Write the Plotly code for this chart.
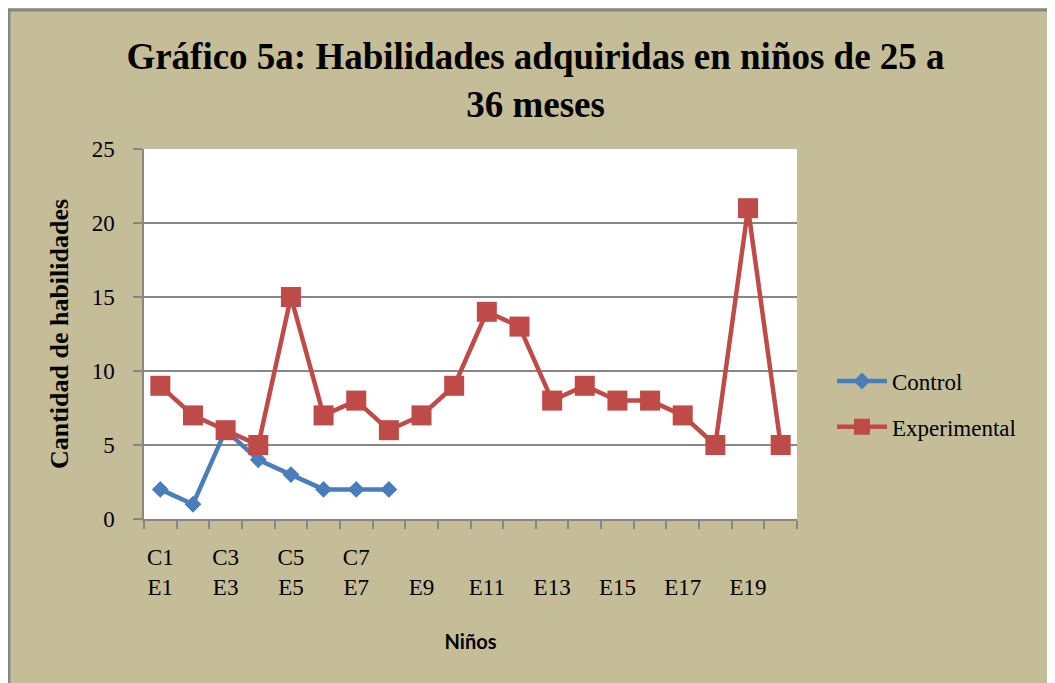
import plotly.graph_objects as go

# ---- data ----
control_labels = ["C1", "C2", "C3", "C4", "C5", "C6", "C7", "C8"]
control_values = [2, 1, 6, 4, 3, 2, 2, 2]
experimental_labels = ["E%d" % i for i in range(1, 21)]
experimental_values = [9, 7, 6, 5, 15, 7, 8, 6, 7, 9, 14, 13, 8, 9, 8, 8, 7, 5, 21, 5]

title_text = "Gráfico 5a: Habilidades adquiridas en niños de 25 a<br>36 meses"
y_title = "Cantidad de habilidades"
x_title = "Niños"

# positions along the category axis
x_control = list(range(1, len(control_values) + 1))
x_exp = list(range(1, len(experimental_values) + 1))

c_tickvals = [x_control[i] for i in range(0, len(control_labels), 2)]
c_ticktext = [control_labels[i] for i in range(0, len(control_labels), 2)]
e_tickvals = [x_exp[i] for i in range(0, len(experimental_labels), 2)]
e_ticktext = [experimental_labels[i] for i in range(0, len(experimental_labels), 2)]

BG = "#C4BD97"
GRID = "#878787"
SERIF = "Liberation Serif, Times New Roman, serif"

OFF = 8  # page body margin
W, H = 1055, 683
L, T = 144 - OFF, 149 - OFF
pw, ph = 653, 370
R, B = W - L - pw, H - T - ph


def px(xp):
    return (xp - OFF - L) / pw


def py(yp):
    return (T + ph - (yp - OFF)) / ph


fig = go.Figure()
fig.add_trace(go.Scatter(
    x=x_control, y=control_values, name="Control", mode="lines+markers",
    line=dict(color="#4A7EBB", width=4.5),
    marker=dict(symbol="diamond", size=13, color="#4A7EBB"),
    legendgroup="c",
))
fig.add_trace(go.Scatter(
    x=x_exp, y=experimental_values, name="Experimental", mode="lines+markers",
    line=dict(color="#BE4B48", width=4.5),
    marker=dict(symbol="square", size=20, color="#BE4B48"),
    legendgroup="e",
))
# invisible helper trace on second x axis (for the E tick labels)
fig.add_trace(go.Scatter(
    x=[x_exp[0], x_exp[-1]], y=[0, 0], xaxis="x2", mode="markers",
    marker=dict(opacity=0), showlegend=False, hoverinfo="skip",
))

fig.update_layout(
    width=W, height=H,
    paper_bgcolor=BG, plot_bgcolor="white",
    margin=dict(l=L, r=R, t=T, b=B),
    title=dict(text=title_text, x=0.5, xanchor="center",
               yref="container", y=1 - 61 / H, yanchor="top",
               font=dict(family=SERIF, size=37, color="black", weight="bold")),
    xaxis=dict(
        range=[0.5, 20.5], tickmode="array", tickvals=c_tickvals, ticktext=c_ticktext,
        ticks="", showgrid=False, zeroline=False,
        showline=True, linecolor=GRID, linewidth=1.5,
        tickfont=dict(family=SERIF, size=23, color="black"),
        ticklabelstandoff=17,
        minor=dict(tick0=0.5, dtick=1, ticks="outside", ticklen=8, tickcolor=GRID,
                   tickwidth=1.5, showgrid=False),
    ),
    xaxis2=dict(
        range=[0.5, 20.5], overlaying="x", side="bottom", anchor="y",
        tickmode="array", tickvals=e_tickvals, ticktext=e_ticktext,
        ticks="", showgrid=False, zeroline=False, showline=False,
        tickfont=dict(family=SERIF, size=23, color="black"),
        ticklabelstandoff=52,
        title=dict(text=x_title, standoff=35,
                   font=dict(family="Lato, sans-serif", size=20, color="black", weight="bold")),
    ),
    yaxis=dict(
        range=[0, 25], dtick=5, tick0=0,
        showgrid=True, gridcolor=GRID, gridwidth=1.5, zeroline=False,
        showline=True, linecolor=GRID, linewidth=1.5,
        ticks="outside", ticklen=9, tickcolor=GRID, tickwidth=1.5,
        ticklabelstandoff=14,
        tickfont=dict(family=SERIF, size=23, color="black"),
        title=dict(text=y_title, standoff=16,
                   font=dict(family=SERIF, size=26, color="black", weight="bold")),
    ),
    legend=dict(x=px(832), xanchor="left", y=py(404), yanchor="middle",
                font=dict(family=SERIF, size=23, color="black"),
                bgcolor="rgba(0,0,0,0)", tracegroupgap=13, itemwidth=50),
    shapes=[
        dict(type="line", xref="paper", yref="paper", x0=px(7), x1=px(W + OFF), y0=py(10), y1=py(10),
             line=dict(color="#878787", width=3), layer="above"),
        dict(type="line", xref="paper", yref="paper", x0=px(9), x1=px(9), y0=py(9), y1=py(H + OFF),
             line=dict(color="#878787", width=3), layer="above"),
    ],
)

fig.write_html("out.html")
